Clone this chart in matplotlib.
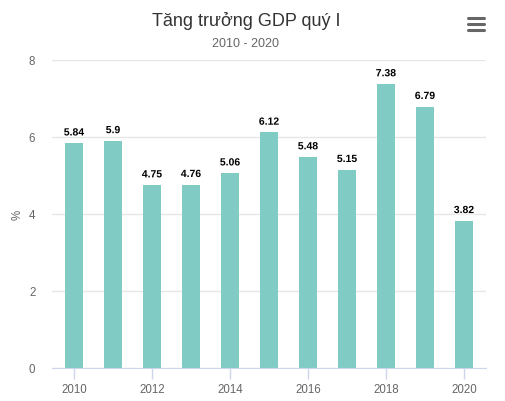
import matplotlib

matplotlib.use("Agg")
import matplotlib.pyplot as plt
import matplotlib.patheffects as pe
from matplotlib.lines import Line2D

plt.rcParams["font.family"] = ["Liberation Sans", "DejaVu Sans"]

years = [2010, 2011, 2012, 2013, 2014, 2015, 2016, 2017, 2018, 2019, 2020]
growth = [5.84, 5.9, 4.75, 4.76, 5.06, 6.12, 5.48, 5.15, 7.38, 6.79, 3.82]
growth_labels = ["5.84", "5.9", "4.75", "4.76", "5.06", "6.12", "5.48", "5.15", "7.38", "6.79", "3.82"]
x_ticks = [2010, 2012, 2014, 2016, 2018, 2020]
y_ticks = [0, 2, 4, 6, 8]

fig = plt.figure(figsize=(5.05, 4.02), dpi=100)
ax = fig.add_axes([52 / 505, 1 - 368.5 / 402, 434 / 505, 307.5 / 402])

ax.bar(years, growth, width=0.47, color="#80cbc4", zorder=2)
for x, v, s in zip(years, growth, growth_labels):
    ax.annotate(s, (x, v), xytext=(0, 4), textcoords="offset points",
                ha="center", va="bottom", fontsize=7.5, fontweight="bold", color="black",
                path_effects=[pe.withStroke(linewidth=2, foreground="white")], zorder=3)

ax.set_xlim(2009.436, 2020.564)
ax.set_ylim(0, 8)
ax.set_xticks(x_ticks)
ax.set_yticks(y_ticks)
ax.tick_params(axis="x", colors="#ccd6eb", labelcolor="#666666", labelsize=8.3, length=8, width=1)
ax.tick_params(axis="y", length=0, labelcolor="#666666", labelsize=8.3, pad=12)
ax.grid(axis="y", color="#e6e6e6", linewidth=1, zorder=0)
for side in ["top", "right", "left"]:
    ax.spines[side].set_visible(False)
ax.spines["bottom"].set_color("#ccd6eb")
ax.set_ylabel("%", color="#666666", fontsize=8.3, labelpad=4)

fig.text(246 / 505, 1 - 21 / 402, "Tăng trưởng GDP quý I", ha="center", va="center",
         fontsize=13, color="#333333")
fig.text(246 / 505, 1 - 44 / 402, "2010 - 2020", ha="center", va="center",
         fontsize=9, color="#666666")

# menu icon
for yy in [19, 25, 31]:
    fig.add_artist(Line2D([468 / 505, 484 / 505], [1 - yy / 402, 1 - yy / 402],
                          color="#666666", linewidth=2.2, solid_capstyle="round"))

fig.savefig("out.png", dpi=100)
